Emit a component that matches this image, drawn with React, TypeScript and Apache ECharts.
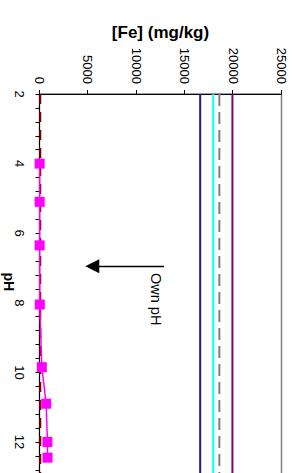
import React, { useEffect, useRef } from "react";
import * as echarts from "echarts";

// Measured series (pH vs [Fe])
const phValues = [4.0, 5.1, 6.35, 8.05, 9.85, 10.9, 12.0, 12.45];
const feValues = [15, 15, 15, 30, 240, 690, 820, 830];

// Reference levels drawn across the whole pH range
const refNames = ["Ref 1", "Ref 2", "Ref 3", "Ref 4"];
const refLevels = [16600, 17950, 18580, 19930];
const refColors = ["#1c1c8c", "#00ffff", "#808080", "#800080"];
const refDash: any[] = ["solid", "solid", [12, 6], "solid"];

// Low limit line
const limitLevel = 80;

// Axis ranges
const phRange = [2, 14];
const phStep = 2;
const feRange = [0, 25000];
const feStep = 5000;

// "Own pH" annotation arrow
const arrowPh = 6.95;
const arrowFrom = 12860;
const arrowTo = 5450;

const FONT = "'Liberation Sans', Arial, sans-serif";
const W = 530;
const H = 295;

export default function App() {
  const ref = useRef<HTMLDivElement>(null);

  useEffect(() => {
    if (!ref.current) return;
    const chart = echarts.init(ref.current, undefined, { renderer: "svg" });

    const refSeries = refLevels.map((v, i) => ({
      name: refNames[i],
      type: "line",
      data: [
        [phRange[0], v],
        [phRange[1], v],
      ],
      symbol: "none",
      silent: true,
      lineStyle: { color: refColors[i], width: 2, type: refDash[i] },
      z: 2,
    }));

    chart.setOption({
      animation: false,
      grid: {
        left: 94,
        top: 13.5,
        width: 417.6,
        height: 242,
        containLabel: false,
        outerBoundsMode: "none",
        show: true,
        borderColor: "#808080",
        borderWidth: 1.5,
        backgroundColor: "transparent",
      },
      xAxis: {
        type: "value",
        min: phRange[0],
        max: phRange[1],
        interval: phStep,
        name: "pH",
        nameLocation: "middle",
        nameGap: 24,
        nameMoveOverlap: false,
        nameTextStyle: {
          fontSize: 14,
          fontWeight: "bold",
          color: "#000",
          fontFamily: FONT,
          padding: [0, 42, 0, 0],
        },
        axisLine: { show: true, lineStyle: { color: "#000", width: 1 } },
        axisTick: { show: true, inside: false, length: 4, lineStyle: { color: "#000" } },
        minorTick: { show: true, splitNumber: 5, length: 4, lineStyle: { color: "#000" } },
        splitLine: { show: false },
        axisLabel: {
          fontSize: 13,
          color: "#000",
          fontFamily: FONT,
          margin: 14,
          showMaxLabel: false,
          formatter: (v: number) => String(v),
        },
      },
      yAxis: {
        type: "value",
        min: feRange[0],
        max: feRange[1],
        interval: feStep,
        name: "[Fe] (mg/kg)",
        nameLocation: "middle",
        nameGap: 53,
        nameMoveOverlap: false,
        nameTextStyle: { fontSize: 17, fontWeight: "bold", color: "#000", fontFamily: FONT },
        axisLine: { show: true, lineStyle: { color: "#000", width: 1 } },
        axisTick: { show: true, inside: false, length: 4, lineStyle: { color: "#000" } },
        splitLine: { show: false },
        axisLabel: {
          fontSize: 13,
          color: "#000",
          fontFamily: FONT,
          margin: 10,
          formatter: (v: number) => String(v),
        },
      },
      graphic: [
        {
          type: "text",
          left: 273,
          top: 132,
          style: { text: "Own pH", fontSize: 14.5, fill: "#000", fontFamily: FONT },
        },
      ],
      series: [
        ...refSeries,
        {
          name: "Limit",
          type: "line",
          data: [
            [phRange[0], limitLevel],
            [phRange[1], limitLevel],
          ],
          symbol: "none",
          silent: true,
          lineStyle: { color: "#800000", width: 2, type: [10, 8] },
          z: 3,
        },
        {
          name: "Fe",
          type: "line",
          data: phValues.map((p, i) => [p, feValues[i]]),
          symbol: "rect",
          symbolSize: 10,
          itemStyle: { color: "#ff00ff" },
          lineStyle: { color: "#ff00ff", width: 1.5 },
          z: 4,
          markLine: {
            silent: true,
            symbol: ["none", "triangle"],
            symbolSize: 14,
            label: { show: false },
            lineStyle: { color: "#000", width: 1.3, type: "solid" },
            data: [[{ coord: [arrowPh, arrowFrom] }, { coord: [arrowPh, arrowTo] }]],
          },
        },
      ],
    });

    return () => chart.dispose();
  }, []);

  return (
    <div
      style={{
        position: "fixed",
        left: 0,
        top: 0,
        width: 295,
        height: 473,
        overflow: "hidden",
        background: "#fff",
      }}
    >
      <div
        ref={ref}
        style={{
          position: "absolute",
          left: 0,
          top: 0,
          width: W,
          height: H,
          transformOrigin: "0 0",
          transform: "translateX(295px) rotate(90deg)",
        }}
      />
    </div>
  );
}
